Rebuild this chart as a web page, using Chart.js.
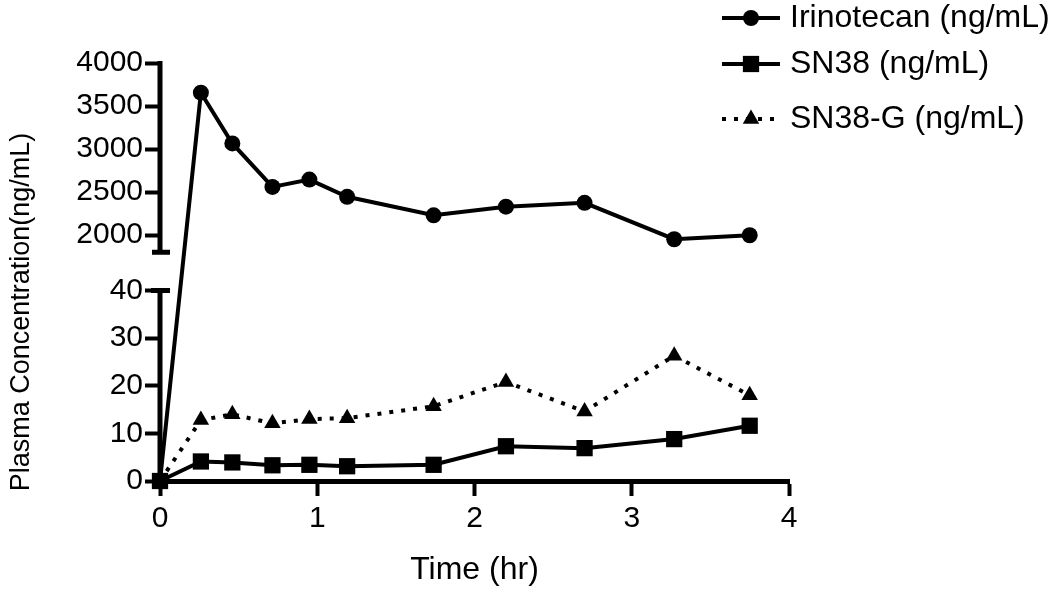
<!DOCTYPE html>
<html><head><meta charset="utf-8">
<script src="https://cdn.jsdelivr.net/npm/chart.js@4/dist/chart.umd.min.js"></script>
<style>html,body{margin:0;padding:0;background:#fff;overflow:hidden}#wrap{width:1050px;height:591px}</style>
</head><body><div id="wrap"><canvas id="c" width="1050" height="591"></canvas></div>
<script>
// ---- data ----
const timesHr = [0, 0.26, 0.46, 0.715, 0.95, 1.19, 1.74, 2.2, 2.7, 3.27, 3.75];
const irinotecan = [0, 3655, 3065, 2560, 2645, 2445, 2230, 2330, 2375, 1952, 1998];
const sn38 = [0, 4.1, 3.9, 3.3, 3.4, 3.1, 3.4, 7.3, 6.9, 8.8, 11.6];
const sn38g = [0, 12.8, 14.0, 12.1, 13.0, 13.2, 15.7, 20.8, 14.6, 26.3, 18.0];
const seriesNames = ['Irinotecan (ng/mL)', 'SN38 (ng/mL)', 'SN38-G (ng/mL)'];
const xTicks = [0, 1, 2, 3, 4];
const yTicksLow = [0, 10, 20, 30, 40];
const yTicksHigh = [2000, 2500, 3000, 3500, 4000];
const lowRange = [0, 40];
const highRange = [1800, 4000];
const xTitle = 'Time (hr)';
const yTitle = 'Plasma Concentration(ng/mL)';

// ---- layout / style ----
const FONT = '"Liberation Sans", Arial, Helvetica, sans-serif';
const LOW_FRAC = 190.5 / 418, HIGH_FRAC = 189.3 / 418;

class BrokenLinearScale extends Chart.LinearScale {
  determineDataLimits() { this.min = lowRange[0]; this.max = highRange[1]; }
  buildTicks() { return [...yTicksLow, ...yTicksHigh].map(v => ({ value: v })); }
  _segs() {
    const h = this.bottom - this.top;
    const lowH = h * LOW_FRAC, highH = h * HIGH_FRAC;
    return { lowTop: this.bottom - lowH, highBottom: this.top + highH, lowH, highH };
  }
  getPixelForValue(v) {
    const s = this._segs();
    if (v <= lowRange[1]) return this.bottom - (v - lowRange[0]) / (lowRange[1] - lowRange[0]) * s.lowH;
    if (v >= highRange[0]) return s.highBottom - (v - highRange[0]) / (highRange[1] - highRange[0]) * s.highH;
    return s.lowTop + (v - lowRange[1]) / (highRange[0] - lowRange[1]) * (s.highBottom - s.lowTop);
  }
  getValueForPixel(p) {
    const s = this._segs();
    if (p >= s.lowTop) return lowRange[0] + (this.bottom - p) / s.lowH * (lowRange[1] - lowRange[0]);
    if (p <= s.highBottom) return highRange[0] + (s.highBottom - p) / s.highH * (highRange[1] - highRange[0]);
    return lowRange[1] + (p - s.lowTop) / (s.highBottom - s.lowTop) * (highRange[0] - lowRange[1]);
  }
}
BrokenLinearScale.id = 'brokenLinear';
BrokenLinearScale.defaults = Chart.LinearScale.defaults;
Chart.register(BrokenLinearScale);

const brokenAxisPlugin = {
  id: 'brokenAxis',
  beforeDatasetsDraw(chart) {
    const ctx = chart.ctx, y = chart.scales.y, x0 = chart.chartArea.left;
    const p0 = y.getPixelForValue(lowRange[0]), pLt = y.getPixelForValue(lowRange[1]);
    const pHb = y.getPixelForValue(highRange[0]), pHt = y.getPixelForValue(highRange[1]);
    ctx.save();
    ctx.strokeStyle = '#000'; ctx.lineWidth = 5; ctx.lineCap = 'butt';
    ctx.beginPath();
    ctx.moveTo(x0, p0 + 2); ctx.lineTo(x0, pLt - 2);
    ctx.moveTo(x0, pHb + 2); ctx.lineTo(x0, pHt - 2);
    ctx.moveTo(x0 - 9, pLt); ctx.lineTo(x0 + 10, pLt);
    ctx.moveTo(x0 - 8, pHb); ctx.lineTo(x0 + 10, pHb);
    ctx.stroke();
    ctx.restore();
  },
  afterDraw(chart) {
    const ctx = chart.ctx;
    ctx.save();
    // y axis title
    ctx.fillStyle = '#000';
    ctx.font = '27px ' + FONT;
    ctx.textAlign = 'center'; ctx.textBaseline = 'middle';
    ctx.translate(22, 312); ctx.rotate(-Math.PI / 2);
    ctx.fillText(yTitle, 0, 0);
    ctx.restore();
    // legend
    const rows = [18, 64, 119];
    chart.data.datasets.forEach((ds, i) => {
      const yy = rows[i];
      ctx.save();
      ctx.strokeStyle = '#000'; ctx.lineWidth = ds.borderWidth;
      ctx.setLineDash(ds.borderDash || []);
      ctx.beginPath(); ctx.moveTo(722, yy); ctx.lineTo(780, yy); ctx.stroke();
      ctx.setLineDash([]);
      ctx.fillStyle = '#000';
      Chart.helpers.drawPoint(ctx, { pointStyle: ds.pointStyle, radius: ds.pointRadius, borderWidth: 0 }, 751, yy);
      ctx.font = '32px ' + FONT;
      ctx.textAlign = 'left'; ctx.textBaseline = 'middle';
      ctx.fillText(ds.label, 790, yy);
      ctx.restore();
    });
  }
};

const mk = (arr) => timesHr.map((t, i) => ({ x: t, y: arr[i] }));

new Chart(document.getElementById('c'), {
  type: 'line',
  data: {
    datasets: [
      { label: seriesNames[0], data: mk(irinotecan), borderColor: '#000', backgroundColor: '#000', borderWidth: 4,
        pointStyle: 'circle', pointRadius: 8, pointBorderWidth: 0, pointBackgroundColor: '#000', tension: 0, clip: false },
      { label: seriesNames[1], data: mk(sn38), borderColor: '#000', backgroundColor: '#000', borderWidth: 4,
        pointStyle: 'rect', pointRadius: 11.5, pointBorderWidth: 0, pointBackgroundColor: '#000', tension: 0, clip: false },
      { label: seriesNames[2], data: mk(sn38g), borderColor: '#000', backgroundColor: '#000', borderWidth: 4, borderDash: [4, 8],
        pointStyle: 'triangle', pointRadius: 9.5, pointBorderWidth: 0, pointBackgroundColor: '#000', tension: 0, clip: false }
    ]
  },
  options: {
    responsive: false, animation: false, devicePixelRatio: 1,
    layout: { padding: { left: 0, top: 63, right: 261, bottom: 0 } },
    plugins: { legend: { display: false }, tooltip: { enabled: false } },
    scales: {
      x: {
        type: 'linear', min: 0, max: 4,
        afterBuildTicks: s => { s.ticks = xTicks.map(v => ({ value: v })); },
        afterFit: s => { s.height = 110; },
        ticks: { color: '#000', font: { size: 30, family: FONT }, padding: 5, autoSkip: false, maxRotation: 0, callback: v => String(v) },
        grid: { drawOnChartArea: false, drawTicks: true, tickLength: 15, tickWidth: 4, tickColor: '#000', color: '#000' },
        border: { display: true, width: 5, color: '#000' },
        title: { display: true, text: xTitle, color: '#000', font: { size: 32, family: FONT }, padding: { top: 0, bottom: 2 } }
      },
      y: {
        type: 'brokenLinear', position: 'left',
        afterFit: s => { s.width = 160; },
        ticks: { color: '#000', font: { size: 30, family: FONT }, padding: 2, autoSkip: false, callback: v => String(v) },
        grid: { drawOnChartArea: false, drawTicks: true, tickLength: 15, tickWidth: 4, tickColor: '#000', color: '#000' },
        border: { display: false }
      }
    }
  },
  plugins: [brokenAxisPlugin]
});
</script>
</body></html>
